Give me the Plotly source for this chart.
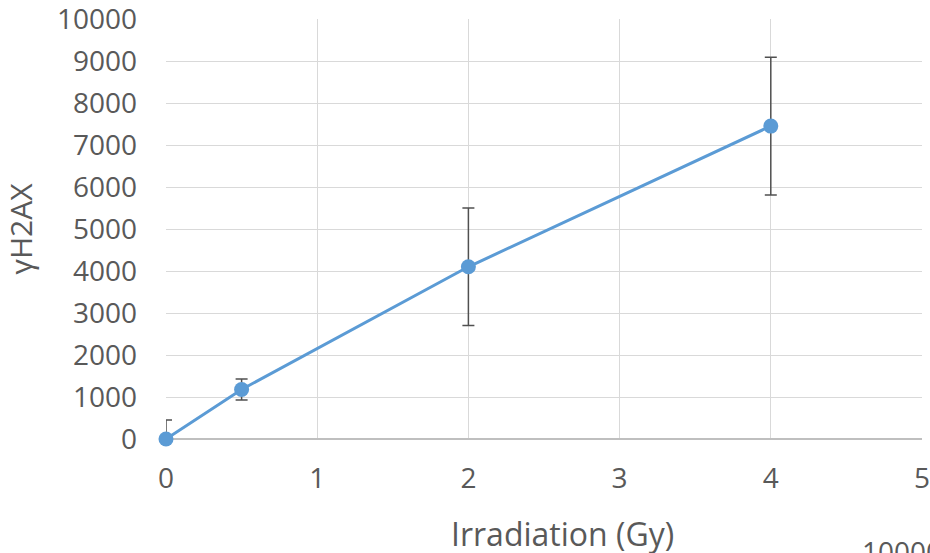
import plotly.graph_objects as go

dose = [0, 0.5, 2, 4]
h2ax = [0, 1180, 4100, 7450]
err = [450, 250, 1400, 1640]

x_ticks = [0, 1, 2, 3, 4, 5]
y_ticks = [0, 1000, 2000, 3000, 4000, 5000, 6000, 7000, 8000, 9000, 10000]

FONT = "Open Sans"
GREY = "#595959"
BLUE = "#5b9bd5"

fig = go.Figure()
# line + error bars (clipped to the plot area)
fig.add_trace(go.Scatter(
    x=dose, y=h2ax, mode="lines",
    line=dict(color=BLUE, width=3),
    error_y=dict(type="data", array=err, visible=True, color="#505050", thickness=1.5, width=6),
    cliponaxis=True,
))
# markers (not clipped, as in the original)
fig.add_trace(go.Scatter(
    x=dose, y=h2ax, mode="markers",
    marker=dict(color=BLUE, size=15),
    cliponaxis=False,
))

fig.update_layout(
    width=930, height=553,
    margin=dict(l=166, r=8, t=19, b=114, autoexpand=False),
    paper_bgcolor="white", plot_bgcolor="white",
    showlegend=False,
    font=dict(family=FONT, color=GREY, size=28),
    xaxis=dict(
        range=[0, 5], tickvals=x_ticks, ticktext=[str(v) for v in x_ticks],
        showgrid=True, gridcolor="#d9d9d9", gridwidth=1.3,
        zeroline=False, showline=False, automargin=False,
        ticks="", ticklabelstandoff=20, ticklabeloverflow="allow",
        tickfont=dict(family=FONT, size=28, color=GREY),
    ),
    yaxis=dict(
        range=[0, 10000], tickvals=y_ticks, ticktext=[str(v) for v in y_ticks],
        showgrid=True, gridcolor="#d9d9d9", gridwidth=1.3,
        zeroline=True, zerolinecolor="#bfbfbf", zerolinewidth=1.5,
        showline=False, ticks="", ticklabelstandoff=28, automargin=False,
        ticklabeloverflow="allow",
        tickfont=dict(family=FONT, size=28, color=GREY),
        title=dict(text="γH2AX", font=dict(family=FONT, size=30, color=GREY), standoff=16),
    ),
)

# x-axis title (offset to the right, as in the original)
fig.add_annotation(
    text="Irradiation (Gy)", xref="paper", yref="paper", x=0.525, y=-0.224,
    xanchor="center", yanchor="middle", showarrow=False,
    font=dict(family=FONT, size=32, color=GREY),
)

# partially visible label at the bottom-right edge
fig.add_annotation(
    text="10000", xref="paper", yref="paper", x=0.918, y=-0.217,
    xanchor="left", yanchor="top", showarrow=False,
    font=dict(family=FONT, size=28, color=GREY),
)

fig.write_html("out.html", config={"displayModeBar": False},
               post_script="document.body.style.margin='0';")
